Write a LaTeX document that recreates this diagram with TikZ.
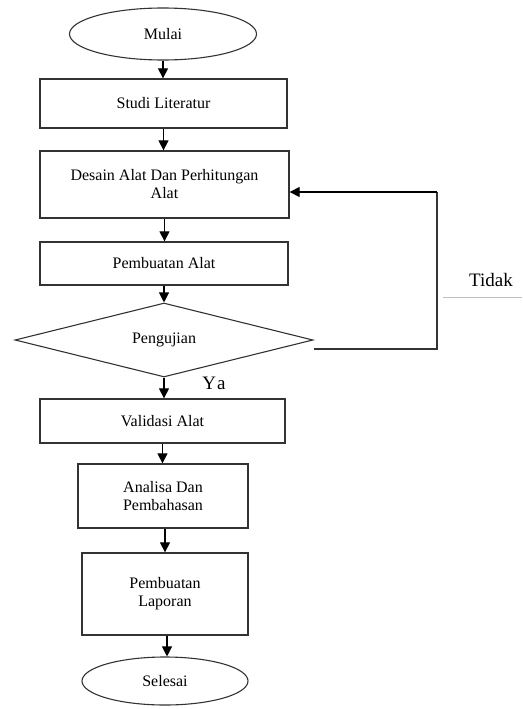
\documentclass[tikz,border=0pt]{standalone}
\usepackage{fontspec}
\setmainfont{Liberation Serif}
\usetikzlibrary{arrows.meta,shapes.geometric}
\begin{document}
\begin{tikzpicture}[x=1pt,y=-1pt,
  every node/.style={font=\fontsize{16}{18}\selectfont},
  box/.style={draw=black!80,line width=1.3pt,rectangle,inner sep=0pt,align=center},
  term/.style={draw=black!80,line width=1.1pt,ellipse,inner sep=0pt},
  dec/.style={draw=black!80,line width=1.1pt,diamond,inner sep=0pt,aspect=4},
  arr/.style={draw=black,line width=1.2pt,-{Triangle[width=10pt,length=10pt]}},
  ln/.style={draw=black!80,line width=1.3pt}]
\useasboundingbox (0,0) rectangle (522,709);
\node[term,minimum width=187pt,minimum height=52pt] (mulai) at (163,34) {Mulai};
\node[box,minimum width=247pt,minimum height=49pt] (studi) at (163.5,103.5) {Studi Literatur};
\node[box,minimum width=249pt,minimum height=67pt] (desain) at (164.5,184.5)
  {\fontsize{16}{16}\selectfont Desain Alat Dan Perhitungan\\ Alat};
\node[box,minimum width=248pt,minimum height=43pt] (buat) at (164,263.5) {Pembuatan Alat};
\node[dec,minimum width=298pt,minimum height=74pt] (uji) at (164,340) {Pengujian};
\node[box,minimum width=245pt,minimum height=44pt] (valid) at (162.5,421) {Validasi Alat};
\node[box,minimum width=170pt,minimum height=64pt] (analisa) at (163,496)
  {\fontsize{16}{21}\selectfont Analisa Dan\\ Pembahasan};
\node[box,minimum width=166pt,minimum height=82pt] (lapor) at (165,594)
  {\fontsize{16}{25}\selectfont Pembuatan\\ Laporan};
\node[term,minimum width=166pt,minimum height=48pt] (selesai) at (165,681) {Selesai};
\node[font=\fontsize{19}{20}\selectfont] (ya) at (214,383) {Y\kern1pt a};
\node[font=\fontsize{19}{20}\selectfont] (tidak) at (491,280) {Tidak};
\coordinate (ulA) at (443,297);
\coordinate (ulB) at (522,297);
\draw[black!25,line width=1pt] (ulA) -- (ulB);
\draw[arr] (mulai.south) -- (mulai.south |- studi.north);
\draw[arr] (studi.south) -- (studi.south |- desain.north);
\draw[arr] (desain.south) -- (desain.south |- buat.north);
\draw[arr] (buat.south) -- (buat.south |- uji.north);
\draw[arr] (uji.south) -- (uji.south |- valid.north);
\draw[arr] (valid.south) -- (valid.south |- analisa.north);
\draw[arr] ([xshift=2pt]analisa.south) -- ([xshift=2pt]analisa.south |- lapor.north);
\draw[arr] ([xshift=2pt]lapor.south) -- ([xshift=2pt]lapor.south |- selesai.north);
\coordinate (fb) at (437,192);
\draw[ln] ([yshift=-9pt]uji.east) -- ([yshift=-9pt]uji.east -| fb) -- (fb);
\draw[arr] (fb) -- (fb -| desain.east);
\end{tikzpicture}
\end{document}
